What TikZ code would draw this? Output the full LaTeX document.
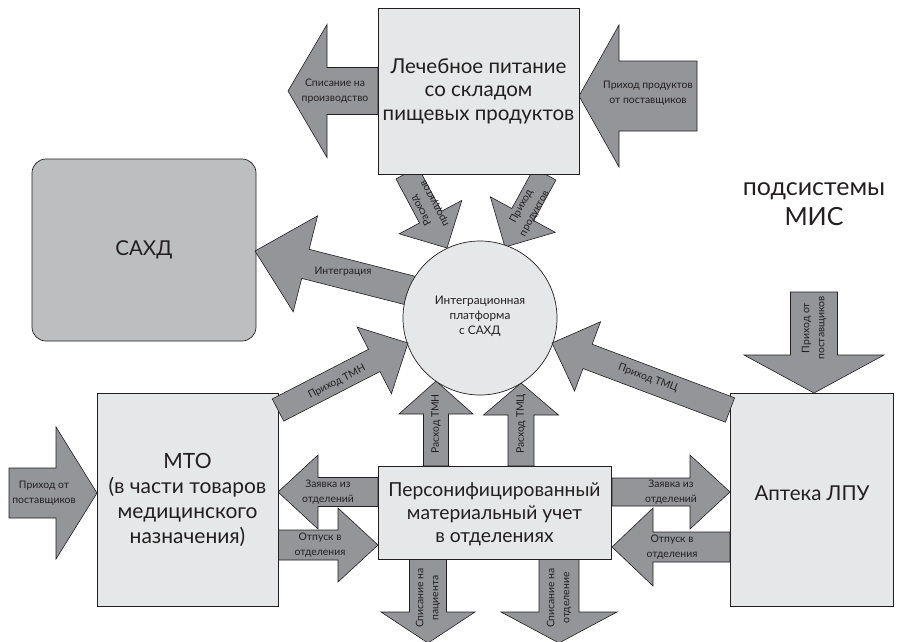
\documentclass[tikz,border=0pt]{standalone}
\usepackage{fontspec}
\setmainfont{Lato}
\usetikzlibrary{calc}
\definecolor{boxgray}{HTML}{E6E7E8}
\definecolor{sahdgray}{HTML}{BCBEC0}
\definecolor{arrgray}{HTML}{939598}
\definecolor{inkgray}{HTML}{231F20}
% tail, tip, half shaft, half head, head length
\newcommand{\blockarrow}[5]{%
  \coordinate (ab) at ($(#2)!#5!(#1)$);
  \filldraw[arrowbody] ($(#1)!#3!90:(#2)$) -- ($(ab)!#3!90:(#2)$) -- ($(ab)!#4!90:(#2)$) -- (#2)
    -- ($(ab)!#4!-90:(#2)$) -- ($(ab)!#3!-90:(#2)$) -- ($(#1)!#3!-90:(#2)$) -- cycle;}

\begin{document}
\begin{tikzpicture}[x=1pt,y=1pt,
  box/.style={draw=inkgray,line width=0.7pt,fill=boxgray},
  arrowbody/.style={draw=inkgray,line width=0.6pt,fill=arrgray},
  biglbl/.style={align=center,text=inkgray,font=\fontsize{20.5}{23.5}\selectfont},
  arrlbl/.style={align=center,text=inkgray,font=\fontsize{10.4}{15}\selectfont,inner sep=0pt}]
  \useasboundingbox (0,0) rectangle (897,-641);

  \filldraw[box,fill=sahdgray,rounded corners=14pt] (32,-159) rectangle (256,-341);
  \node[biglbl] (sahd) at (144,-250) {САХД};

  % food storage arrows
  \blockarrow{378,-91}{288,-91}{23.5pt}{66.5pt}{39pt}
  \node[arrlbl] (spisProizv) at (335,-91) {Списание на\\производство};
  \blockarrow{697,-96}{579,-96}{35pt}{71pt}{40pt}
  \node[arrlbl] (prihPostFood) at (648,-93) {Приход продуктов\\от поставщиков};
  \blockarrow{407,-173}{447,-248}{12.5pt}{35.5pt}{35pt}
  \node[arrlbl,rotate=118] (rashProd) at (428,-207) {Расход\\продуктов};
  \blockarrow{545,-174}{505,-247}{12.5pt}{37pt}{37pt}
  \node[arrlbl,rotate=61] (prihProd) at (528,-210) {Приход\\продуктов};

  % platform arrows
  \blockarrow{420,-293}{255,-251}{15pt}{49.5pt}{52pt}
  \node[arrlbl] (integr) at (343,-272) {Интеграция};
  \blockarrow{436,-466}{436,-381}{12.5pt}{37pt}{33pt}
  \node[arrlbl,rotate=90] (rashTMN) at (436,-424) {Расход ТМН};
  \blockarrow{521,-466}{521,-383}{13pt}{37.5pt}{32pt}
  \node[arrlbl,rotate=90] (rashTMC) at (521,-424) {Расход ТМЦ};

  % supplier arrows
  \blockarrow{9,-493}{97,-493}{25pt}{66pt}{41pt}
  \node[arrlbl] (prihPostMTO) at (44,-493) {Приход от\\поставщиков};
  \blockarrow{814,-292}{814,-393}{23.5pt}{70pt}{38pt}
  \node[arrlbl,rotate=90] (prihPostApt) at (814,-328) {Приход от\\поставщиков};

  % department arrows
  \blockarrow{378,-492}{278,-492}{14.5pt}{37pt}{40pt}
  \node[arrlbl] (zayavMTO) at (328,-492) {Заявка из\\отделений};
  \blockarrow{278,-545}{378,-545}{15pt}{37pt}{40pt}
  \node[arrlbl] (otpMTO) at (320,-545) {Отпуск в\\отделения};
  \blockarrow{730,-547}{612,-547}{15pt}{39pt}{41pt}
  \node[arrlbl] (otpApt) at (672,-547) {Отпуск в\\отделения};
  \blockarrow{612,-492}{730,-492}{14pt}{37pt}{40pt}
  \node[arrlbl] (zayavApt) at (671,-492) {Заявка из\\отделений};
  \blockarrow{428,-559}{428,-643}{18.5pt}{47pt}{31pt}
  \node[arrlbl,rotate=90] (spisPac) at (428,-598) {Списание на\\пациента};
  \blockarrow{559,-559}{559,-643}{20pt}{58pt}{31pt}
  \node[arrlbl,rotate=90] (spisOtd) at (559,-598) {Списание на\\отделение};

  % subsystems
  \filldraw[box] (378,-8) rectangle (579,-174);
  \node[biglbl] (lech) at (478.5,-91) {Лечебное питание\\со складом\\пищевых продуктов};
  \filldraw[box] (480,-318) circle (77);
  \node[align=center,text=inkgray,font=\fontsize{11.8}{15}\selectfont] (platf) at (480,-316) {Интеграционная\\платформа\\с САХД};
  \filldraw[box] (378,-466) rectangle (611,-559);
  \node[biglbl,font=\fontsize{19.3}{23}\selectfont] (pmu) at (494.5,-514) {Персонифицированный\\материальный учет\\в отделениях};
  \filldraw[box] (97,-393) rectangle (278,-606);
  \node[biglbl,font=\fontsize{21}{25}\selectfont] (mto) at (187.5,-500) {МТО\\(в части товаров\\медицинского\\назначения)};
  \filldraw[box] (730,-393) rectangle (893,-606);
  \node[biglbl] (apteka) at (812,-493) {Аптека ЛПУ};

  \blockarrow{278,-410}{408,-343}{12.5pt}{37.5pt}{38pt}
  \node[arrlbl,rotate=27] (prihTMN) at (337,-382) {Приход ТМН};
  \blockarrow{730,-410}{552,-343}{13pt}{37pt}{38pt}
  \node[arrlbl,rotate=-20.6] (prihTMC) at (648,-378) {Приход ТМЦ};

  \node[align=center,text=inkgray,font=\fontsize{25}{30}\selectfont] (mis) at (814,-204) {подсистемы\\МИС};
\end{tikzpicture}
\end{document}
